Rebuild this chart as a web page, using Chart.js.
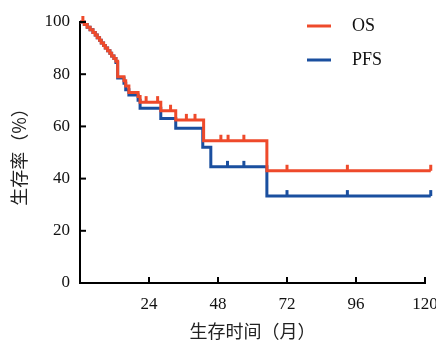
<!DOCTYPE html>
<html>
<head>
<meta charset="utf-8">
<script src="https://cdn.jsdelivr.net/npm/chart.js@4.4.1/dist/chart.umd.min.js"></script>
<style>
html,body{margin:0;padding:0;background:#fff;}
#wrap{width:436px;height:348px;}
</style>
</head>
<body>
<div id="wrap"><canvas id="c" width="436" height="348"></canvas></div>
<script>
// ---- data ----
const seriesNames = ['OS', 'PFS'];
const osTimes = [0, 1.5, 2.5, 3.5, 4.5, 5.3, 6.0, 6.8, 7.4, 8.2, 8.8, 9.6, 10.4, 11.0, 11.8, 12.5, 13.1, 15.3, 15.9, 17.0, 20.2, 20.9, 28.1, 33.3, 43.0, 65.0, 122];
const osSurv  = [100, 99, 98, 97, 96, 95, 94, 93, 92, 91, 90, 89, 88, 87, 86, 85, 79, 77.5, 75.5, 73, 71.5, 69.3, 66, 62.5, 54.5, 43, 43];
const pfsTimes = [0, 1.5, 2.5, 3.5, 4.5, 5.3, 6.0, 6.8, 7.4, 8.2, 8.8, 9.6, 10.4, 11.0, 11.8, 12.5, 13.1, 15.3, 15.9, 17.0, 20.2, 20.9, 28.1, 33.3, 42.7, 45.5, 65.0, 122];
const pfsSurv  = [100, 99, 98, 97, 96, 95, 94, 93, 92, 91, 90, 89, 88, 87, 86, 84.5, 78.5, 76.5, 74, 72, 70, 67, 63, 59.3, 52, 44.5, 33.3, 33.3];
const osCensor  = [1, 23, 27, 31.5, 37, 40, 49, 51.5, 57, 72, 93, 122];
const pfsCensor = [51.3, 57, 72, 93, 122];
const xTicks = [24, 48, 72, 96, 120];
const yTicks = [0, 20, 40, 60, 80, 100];
const xTitle = '生存时间（月）';
const yTitle = '生存率（%）';

const OS_COLOR = '#EE4A2B';
const PFS_COLOR = '#1A4F9F';
const NUM_FONT = "'Liberation Serif', 'Times New Roman', serif";
const CJK_FONT = "'Noto Sans CJK SC', sans-serif";

function toPts(ts, ss){ return ts.map((t,i)=>({x:t, y:ss[i]})); }
function survAt(ts, ss, t){ let v = ss[0]; for(let i=0;i<ts.length;i++){ if(ts[i] <= t) v = ss[i]; } return v; }

const censorPlugin = {
  id: 'censor',
  afterDatasetsDraw(chart){
    const ctx = chart.ctx, xs = chart.scales.x, ys = chart.scales.y;
    const groups = [
      {times: pfsCensor, ts: pfsTimes, ss: pfsSurv, color: PFS_COLOR},
      {times: osCensor, ts: osTimes, ss: osSurv, color: OS_COLOR}
    ];
    ctx.save();
    ctx.lineWidth = 3;
    ctx.lineCap = 'butt';
    groups.forEach(g=>{
      ctx.strokeStyle = g.color;
      g.times.forEach(t=>{
        const px = xs.getPixelForValue(t);
        const py = ys.getPixelForValue(survAt(g.ts, g.ss, t));
        ctx.beginPath();
        ctx.moveTo(px, py);
        ctx.lineTo(px, py - 6);
        ctx.stroke();
      });
    });
    ctx.restore();
  }
};

const axisPlugin = {
  id: 'inticks',
  afterDraw(chart){
    const ctx = chart.ctx, xs = chart.scales.x, ys = chart.scales.y, a = chart.chartArea;
    ctx.save();
    ctx.strokeStyle = '#000';
    ctx.lineWidth = 2;
    xTicks.forEach(v=>{
      const px = xs.getPixelForValue(v);
      ctx.beginPath(); ctx.moveTo(px, a.bottom); ctx.lineTo(px, a.bottom - 6); ctx.stroke();
    });
    yTicks.forEach(v=>{
      if (v === 0) return;
      const py = ys.getPixelForValue(v);
      ctx.beginPath(); ctx.moveTo(a.left, py); ctx.lineTo(a.left + 6, py); ctx.stroke();
    });
    // legend
    const items = [{label: seriesNames[0], color: OS_COLOR}, {label: seriesNames[1], color: PFS_COLOR}];
    ctx.font = "18px " + NUM_FONT;
    ctx.textBaseline = 'middle';
    ctx.textAlign = 'left';
    items.forEach((it, i)=>{
      const y = 26 + i * 34;
      ctx.strokeStyle = it.color; ctx.lineWidth = 3;
      ctx.beginPath(); ctx.moveTo(307, y); ctx.lineTo(331, y); ctx.stroke();
      ctx.fillStyle = '#111';
      ctx.fillText(it.label, 352, y);
    });
    ctx.restore();
  }
};

new Chart(document.getElementById('c'), {
  type: 'line',
  data: {
    datasets: [
      {label: seriesNames[0], data: toPts(osTimes, osSurv), borderColor: OS_COLOR, borderWidth: 3, stepped: 'before', pointRadius: 0, fill: false, clip: false},
      {label: seriesNames[1], data: toPts(pfsTimes, pfsSurv), borderColor: PFS_COLOR, borderWidth: 3, stepped: 'before', pointRadius: 0, fill: false, clip: false}
    ]
  },
  options: {
    responsive: false,
    animation: false,
    layout: {padding: {top: 22, right: 11, left: 0, bottom: 0}},
    plugins: {legend: {display: false}, tooltip: {enabled: false}},
    scales: {
      x: {
        type: 'linear', min: 0, max: 120,
        afterBuildTicks(s){ s.ticks = [0].concat(xTicks).map(v=>({value: v})); },
        afterFit(s){ s.height = 65; s.paddingRight = 0; s.paddingLeft = 0; },
        grid: {display: true, drawOnChartArea: false, drawTicks: false},
        border: {display: true, color: '#000', width: 2},
        ticks: {padding: 11, color: '#111', font: {family: NUM_FONT, size: 17}, maxRotation: 0,
                callback: v => v === 0 ? '' : String(v)},
        title: {display: true, text: xTitle, color: '#222', font: {family: CJK_FONT, size: 18}, padding: {top: 0, bottom: 6}}
      },
      y: {
        type: 'linear', min: 0, max: 100,
        afterBuildTicks(s){ s.ticks = yTicks.map(v=>({value: v})); },
        afterFit(s){ s.width = 80; s.paddingTop = 0; s.paddingBottom = 0; },
        grid: {display: true, drawOnChartArea: false, drawTicks: false},
        border: {display: true, color: '#000', width: 2},
        ticks: {padding: 10, color: '#111', font: {family: NUM_FONT, size: 17}},
        title: {display: true, text: yTitle, color: '#222', font: {family: CJK_FONT, size: 18}, padding: {top: 8, bottom: 0}}
      }
    }
  },
  plugins: [censorPlugin, axisPlugin]
});
</script>
</body>
</html>
